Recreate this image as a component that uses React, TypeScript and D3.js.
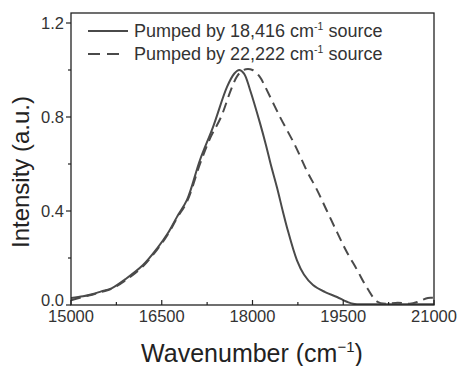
import React from "react";
import * as d3 from "d3";

const solidWavenumber = [15000, 15200, 15364, 15500, 15678, 15900, 16190, 16421, 16600, 16752, 16917, 17132, 17347, 17579, 17700, 17780, 17860, 17960, 18124, 18223, 18300, 18405, 18500, 18570, 18735, 18850, 19000, 19200, 19397, 19550, 19660, 20000, 20500, 21000];
const solidIntensity = [0.03, 0.037, 0.047, 0.058, 0.072, 0.11, 0.17, 0.24, 0.305, 0.375, 0.447, 0.617, 0.757, 0.928, 0.985, 1.0, 0.985, 0.915, 0.774, 0.68, 0.6, 0.5, 0.4, 0.33, 0.19, 0.13, 0.085, 0.055, 0.034, 0.015, 0.005, 0.003, 0.003, 0.003];

const dashedWavenumber = [15000, 15200, 15364, 15500, 15678, 15900, 16190, 16421, 16600, 16752, 16917, 17132, 17300, 17480, 17650, 17750, 17850, 18000, 18124, 18207, 18455, 18702, 18900, 19066, 19231, 19397, 19550, 19727, 19900, 20058, 20200, 20400, 20600, 20750, 20900, 21000];
const dashedIntensity = [0.02, 0.035, 0.045, 0.055, 0.07, 0.105, 0.165, 0.235, 0.3, 0.37, 0.44, 0.6, 0.71, 0.8, 0.92, 0.975, 1.0, 1.0, 0.97, 0.93, 0.8, 0.68, 0.57, 0.49, 0.4, 0.31, 0.23, 0.15, 0.07, 0.015, 0.005, 0.01, 0.005, 0.015, 0.03, 0.03];

const xMajorTicks = [15000, 16500, 18000, 19500, 21000];
const xMinorTicks = [15750, 17250, 18750, 20250];
const yMajorTicks = [0, 0.4, 0.8, 1.2];
const yMinorTicks = [0.2, 0.6, 1.0];

const legendLabels = ["Pumped by 18,416 cm", "Pumped by 22,222 cm"];

export default function App() {
  const W = 459, H = 366;
  const left = 71, right = 434, top = 13, bottom = 305;
  const x = d3.scaleLinear().domain([15000, 21000]).range([left, right]);
  const y = d3.scaleLinear().domain([0, 1.2]).range([bottom, bottom - 1.2 * 235]);
  const line = d3.line<[number, number]>().x(d => x(d[0])).y(d => y(d[1])).curve(d3.curveCatmullRom.alpha(0.5));
  const solid = line(solidWavenumber.map((w, i) => [w, solidIntensity[i]]) as [number, number][]) || "";
  const dashed = line(dashedWavenumber.map((w, i) => [w, dashedIntensity[i]]) as [number, number][]) || "";
  const lineColor = "#4a4a4a";
  const axisColor = "#222";
  const font = "'Liberation Sans', Arial, sans-serif";
  return (
    <svg width={W} height={H} style={{ position: "absolute", left: 0, top: 0, background: "#fff" }} fontFamily={font}>
      <defs>
        <clipPath id="plot"><rect x={left} y={top} width={right - left} height={bottom - top} /></clipPath>
      </defs>
      <g clipPath="url(#plot)">
        <path d={solid} fill="none" stroke={lineColor} strokeWidth={2} />
        <path d={dashed} fill="none" stroke={lineColor} strokeWidth={2} strokeDasharray="10,6" />
      </g>
      <rect x={left} y={top} width={right - left} height={bottom - top} fill="none" stroke={axisColor} strokeWidth={1.3} />
      {xMajorTicks.map(t => (
        <g key={"xm" + t}>
          <line x1={x(t)} x2={x(t)} y1={bottom} y2={bottom - 5} stroke={axisColor} strokeWidth={1.2} />
          <text x={x(t)} y={322} textAnchor="middle" fontSize={16.5} fill="#333">{t}</text>
        </g>
      ))}
      {xMinorTicks.map(t => (
        <line key={"xn" + t} x1={x(t)} x2={x(t)} y1={bottom} y2={bottom - 3} stroke={axisColor} strokeWidth={1.2} />
      ))}
      {yMajorTicks.map(t => (
        <g key={"ym" + t}>
          <line x1={left} x2={left - 5} y1={y(t)} y2={y(t)} stroke={axisColor} strokeWidth={1.2} />
          <text x={left - 7} y={t === 0 ? y(t) + 1 : y(t) + 6} textAnchor="end" fontSize={16.5} fill="#333">{t.toFixed(1)}</text>
        </g>
      ))}
      {yMinorTicks.map(t => (
        <line key={"yn" + t} x1={left} x2={left - 3} y1={y(t)} y2={y(t)} stroke={axisColor} strokeWidth={1.2} />
      ))}
      {legendLabels.map((lab, i) => {
        const ly = 31 + i * 23;
        return (
          <g key={lab}>
            <line x1={88} x2={i === 1 ? 120 : 128} y1={ly} y2={ly} stroke={lineColor} strokeWidth={2} strokeDasharray={i === 1 ? "12,7" : undefined} />
            <text x={134} y={ly + 6} fontSize={18} fill="#333">
              {lab}
              <tspan dy={-7} fontSize={10.5}>-1</tspan>
              <tspan dy={7}> source</tspan>
            </text>
          </g>
        );
      })}
      <text x={252} y={362} textAnchor="middle" fontSize={25} fill="#222">
        Wavenumber (cm<tspan dy={-10} fontSize={15}>−1</tspan><tspan dy={10}>)</tspan>
      </text>
      <text transform={`translate(29,${172}) rotate(-90)`} textAnchor="middle" fontSize={24} fill="#222">Intensity (a.u.)</text>
    </svg>
  );
}
